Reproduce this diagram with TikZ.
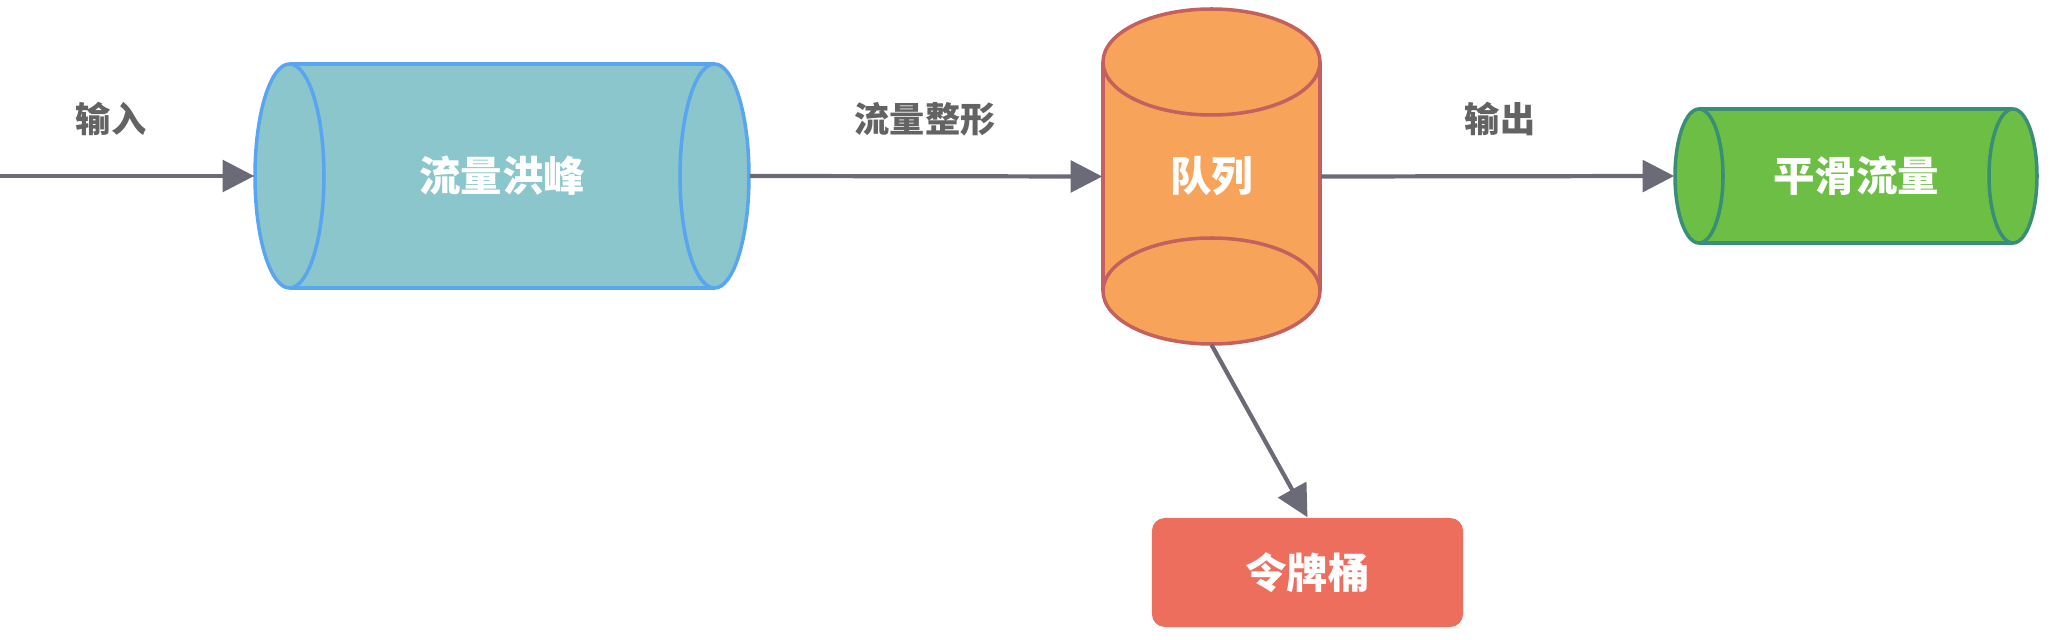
\documentclass[tikz,border=0pt]{standalone}
\usepackage{fontspec}
\newfontfamily\cjk{Noto Sans CJK SC}
\usepackage{tikz}
\usetikzlibrary{arrows.meta}
\definecolor{flowgray}{HTML}{6B6B78}
\definecolor{labelgray}{HTML}{636363}
\definecolor{tealfill}{HTML}{8AC6CC}
\definecolor{blueline}{HTML}{5AA5F0}
\definecolor{orangefill}{HTML}{F8A35A}
\definecolor{orangeline}{HTML}{C4605E}
\definecolor{greenfill}{HTML}{6DBE45}
\definecolor{greenline}{HTML}{3B8E76}
\definecolor{redfill}{HTML}{EE6E5E}

\begin{document}
\begin{tikzpicture}[x=0.01cm,y=-0.01cm,
  flow/.style={draw=flowgray,line width=1.2pt,-{Triangle[length=9pt,width=9pt]}},
  lbl/.style={text=labelgray,font=\cjk\bfseries\fontsize{10}{12}\selectfont},
  boxtext/.style={text=white,inner sep=0pt,font=\cjk\bfseries\fontsize{11.8}{14}\selectfont}]
\useasboundingbox (0,0) rectangle (2050,640);
%\draw[help lines,step=1cm] (0,0) grid (2050,640);

% flood cylinder
\fill[tealfill] (289.5,64) rectangle (714.5,288);
\draw[blueline,line width=1pt] (289.5,64) -- (714.5,64);
\draw[blueline,line width=1pt] (289.5,288) -- (714.5,288);
\draw[blueline,line width=1pt,fill=tealfill] (289.5,176) ellipse [x radius=34.5,y radius=112];
\draw[blueline,line width=1pt,fill=tealfill] (714.5,176) ellipse [x radius=34.5,y radius=112];
\node[boxtext,minimum width=4.94cm,minimum height=2.24cm] (flood) at (502,176) {流量洪峰};

% queue cylinder
\fill[orangefill] (1103,62) rectangle (1320,291);
\draw[orangeline,line width=1pt,fill=orangefill] (1211.5,291) ellipse [x radius=108.5,y radius=53];
\draw[orangeline,line width=1pt] (1103,62) -- (1103,291);
\draw[orangeline,line width=1pt] (1320,62) -- (1320,291);
\draw[orangeline,line width=1pt,fill=orangefill] (1211.5,62) ellipse [x radius=108.5,y radius=53];
\node[boxtext,minimum width=2.17cm,minimum height=3.35cm] (queue) at (1211.5,176.5) {队列};

% smooth cylinder
\fill[greenfill] (1699,109) rectangle (2013,243);
\draw[greenline,line width=1pt] (1699,109) -- (2013,109);
\draw[greenline,line width=1pt] (1699,243) -- (2013,243);
\draw[greenline,line width=1pt,fill=greenfill] (1699,176) ellipse [x radius=24,y radius=67];
\draw[greenline,line width=1pt,fill=greenfill] (2013,176) ellipse [x radius=24,y radius=67];
\node[boxtext,minimum width=3.62cm,minimum height=1.34cm] (smooth) at (1856,176) {平滑流量};

% bucket
\node[boxtext,fill=redfill,rounded corners=0.13cm,minimum width=3.11cm,minimum height=1.09cm] (bucket) at (1307.5,572.5) {令牌桶};

\node[lbl] (inlbl) at (111,119) {输入};
\node[lbl] (shapelbl) at (925,119) {流量整形};
\node[lbl] (outlbl) at (1500,119) {输出};

\coordinate (src) at (0,176);
\draw[flow] (src) -- (flood.west);
\draw[flow] (flood.east) -- (queue.west);
\draw[flow] (queue.east) -- (smooth.west);
\draw[flow] (queue.south) -- (bucket.north);
\end{tikzpicture}
\end{document}
